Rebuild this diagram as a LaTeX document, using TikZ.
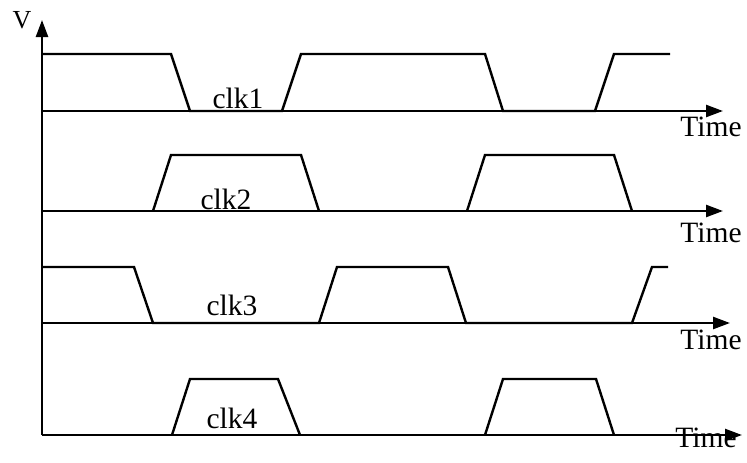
\documentclass[tikz,border=0pt]{standalone}
\usepackage{fontspec}
\setmainfont{Liberation Serif}
\usetikzlibrary{arrows.meta}
\begin{document}
\begin{tikzpicture}[x=1pt,y=-1pt,line width=2.4pt,
  axisarrow/.style={-{Triangle[length=17pt,width=12pt]}},
  wave/.style={line join=miter},
  lbl/.style={font=\fontsize{29.5}{29.5}\selectfont,inner sep=0pt},
  vlbl/.style={font=\fontsize{26}{26}\selectfont,inner sep=0pt}]
\useasboundingbox (0,0) rectangle (747,463);
% vertical axis
\coordinate (o) at (42,435);
\coordinate (vtop) at (42,20);
\draw[axisarrow] (o) -- (vtop);
\node[vlbl] (V) at (22,20) {V};
% time axes
\coordinate (a1s) at (42,111); \coordinate (a1e) at (723,111);
\coordinate (a2s) at (42,211); \coordinate (a2e) at (723,211);
\coordinate (a3s) at (42,323); \coordinate (a3e) at (730,323);
\coordinate (a4e) at (742,435);
\draw[axisarrow] (a1s) -- (a1e);
\draw[axisarrow] (a2s) -- (a2e);
\draw[axisarrow] (a3s) -- (a3e);
\draw[axisarrow] (o) -- (a4e);
\node[lbl] (t1) at (711,127) {Time};
\node[lbl] (t2) at (711,233) {Time};
\node[lbl] (t3) at (711,340) {Time};
\node[lbl] (t4) at (706,438) {Time};
% clk1
\draw[wave] (42,54) -- (171,54) -- (190,111) -- (282,111) -- (301,54) -- (485,54) -- (503,111) -- (595,111) -- (614,54) -- (670,54);
\node[lbl] (c1) at (238,98) {clk1};
% clk2
\draw[wave] (153,211) -- (171,155) -- (301,155) -- (319,211);
\draw[wave] (467,211) -- (485,155) -- (614,155) -- (632,211);
\node[lbl] (c2) at (226,199) {clk2};
% clk3
\draw[wave] (42,267) -- (134,267) -- (153,323) -- (319,323) -- (337,267) -- (448,267) -- (466,323) -- (632,323) -- (652,267) -- (668,267);
\node[lbl] (c3) at (232,305) {clk3};
% clk4
\draw[wave] (172,435) -- (190,379) -- (278,379) -- (300,435);
\draw[wave] (485,435) -- (503,379) -- (596,379) -- (614,435);
\node[lbl] (c4) at (232,418) {clk4};
\end{tikzpicture}
\end{document}
